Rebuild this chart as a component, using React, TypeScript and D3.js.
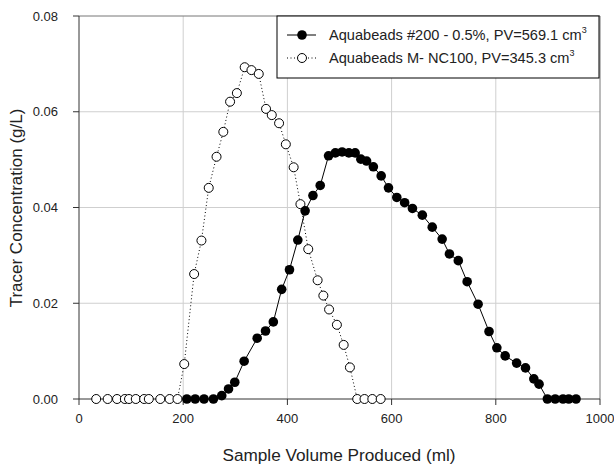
import React from 'react';
import * as d3 from 'd3';

// Aquabeads #200 - 0.5% (filled circles, solid line)
const beads200X = [207, 223, 240, 258, 274, 287, 299, 317, 342, 358, 373, 389, 404, 420, 434, 449, 463, 479, 492, 505, 518, 530, 541, 552, 565, 580, 594, 610, 625, 640, 659, 678, 697, 711, 728, 745, 766, 787, 802, 818, 840, 857, 873, 883, 899, 914, 929, 940, 954];
const beads200Y = [0, 0, 0, 0, 0.0007, 0.0021, 0.0035, 0.0079, 0.0127, 0.0142, 0.0161, 0.0229, 0.027, 0.0332, 0.0393, 0.0425, 0.0446, 0.0508, 0.0514, 0.0516, 0.0514, 0.0514, 0.0501, 0.0497, 0.0485, 0.0466, 0.0441, 0.0421, 0.041, 0.0398, 0.0384, 0.0359, 0.0334, 0.0303, 0.0289, 0.0245, 0.0198, 0.0141, 0.0107, 0.009, 0.0075, 0.0065, 0.0042, 0.0031, 0, 0, 0, 0, 0];

// Aquabeads M- NC100 (open circles, dotted line)
const nc100X = [33, 55, 73, 88, 96, 109, 125, 134, 156, 174, 189, 202, 221, 235, 249, 264, 277, 290, 303, 318, 331, 345, 359, 370, 384, 397, 412, 425, 440, 458, 469, 480, 495, 508, 520, 534, 548, 563, 579];
const nc100Y = [0, 0, 0, 0, 0, 0, 0, 0, 0, 0, 0, 0.0073, 0.0261, 0.0331, 0.0441, 0.0506, 0.0558, 0.0621, 0.0639, 0.0693, 0.0687, 0.0679, 0.0606, 0.0593, 0.0576, 0.0532, 0.0484, 0.0407, 0.0313, 0.0248, 0.0216, 0.0187, 0.0155, 0.0113, 0.0066, 0, 0, 0, 0];

const xTicks = [0, 200, 400, 600, 800, 1000];
const yTicks = [0, 0.02, 0.04, 0.06, 0.08];

const FONT = 'Liberation Sans, Arial, sans-serif';

export default function App() {
  const left = 79, right = 600, top = 16, bottom = 399;
  const x = d3.scaleLinear().domain([0, 1000]).range([left, right]);
  const y = d3.scaleLinear().domain([0, 0.08]).range([bottom, top]);

  const s200 = beads200X.map((v, i) => [v, beads200Y[i]] as [number, number]);
  const sNc = nc100X.map((v, i) => [v, nc100Y[i]] as [number, number]);

  const line = d3.line<[number, number]>()
    .x(d => x(d[0]))
    .y(d => y(d[1]));

  return (
    <svg width={614} height={466} style={{position: 'absolute', left: 0, top: 0}}>
      <rect width={614} height={466} fill="#fff" />

      {/* grid */}
      {xTicks.slice(1, -1).map(t => (
        <line key={'gx' + t} x1={x(t)} x2={x(t)} y1={top} y2={bottom} stroke="#cfcfcf" strokeWidth={1} />
      ))}
      {yTicks.slice(1, -1).map(t => (
        <line key={'gy' + t} x1={left} x2={right} y1={y(t)} y2={y(t)} stroke="#cfcfcf" strokeWidth={1} />
      ))}

      {/* frame */}
      <line x1={left} x2={right} y1={top} y2={top} stroke="#777" strokeWidth={1} />
      <line x1={right} x2={right} y1={top} y2={bottom} stroke="#777" strokeWidth={1} />
      <line x1={left} x2={left} y1={top} y2={bottom} stroke="#333" strokeWidth={1} />
      <line x1={left} x2={right} y1={bottom} y2={bottom} stroke="#333" strokeWidth={1} />

      {/* y axis ticks */}
      {yTicks.map(t => (
        <g key={'yt' + t}>
          <line x1={left - 6} x2={left} y1={y(t)} y2={y(t)} stroke="#333" />
          <text x={left - 21} y={y(t)} dy="0.35em" textAnchor="end" fontFamily={FONT} fontSize={13} fill="#222">
            {t.toFixed(2)}
          </text>
        </g>
      ))}

      {/* x axis ticks */}
      {xTicks.map(t => (
        <g key={'xt' + t}>
          <line x1={x(t)} x2={x(t)} y1={bottom} y2={bottom + 6} stroke="#333" />
          <text x={x(t)} y={bottom + 24} textAnchor="middle" fontFamily={FONT} fontSize={13} fill="#222">
            {t}
          </text>
        </g>
      ))}

      {/* axis titles */}
      <text x={339} y={461} textAnchor="middle" fontFamily={FONT} fontSize={17.2} fill="#222">
        Sample Volume Produced (ml)
      </text>
      <text transform={`translate(22, 208) rotate(-90)`} textAnchor="middle" fontFamily={FONT} fontSize={17} fill="#222">
        Tracer Concentration (g/L)
      </text>

      {/* series */}
      <path d={line(sNc) ?? ''} fill="none" stroke="#000" strokeWidth={1} strokeDasharray="1,2.5" />
      {sNc.map((d, i) => (
        <circle key={'nc' + i} cx={x(d[0])} cy={y(d[1])} r={4.5} fill="#fff" stroke="#000" strokeWidth={1} />
      ))}
      <path d={line(s200) ?? ''} fill="none" stroke="#000" strokeWidth={1} />
      {s200.map((d, i) => (
        <circle key={'b' + i} cx={x(d[0])} cy={y(d[1])} r={4.8} fill="#000" />
      ))}

      {/* legend */}
      <g>
        <rect x={277} y={16} width={322} height={62} fill="#fff" stroke="#000" strokeWidth={1} />
        <line x1={287} x2={316} y1={35} y2={35} stroke="#000" />
        <circle cx={302} cy={35} r={4.8} fill="#000" />
        <text x={329} y={35} dy="0.35em" fontFamily={FONT} fontSize={14.6} fill="#222">
          Aquabeads #200 - 0.5%, PV=569.1 cm<tspan dy="-7" fontSize={9}>3</tspan>
        </text>
        <line x1={287} x2={316} y1={58} y2={58} stroke="#000" strokeDasharray="1,2.5" />
        <circle cx={302} cy={58} r={4.5} fill="#fff" stroke="#000" />
        <text x={329} y={58} dy="0.35em" fontFamily={FONT} fontSize={14.6} fill="#222">
          Aquabeads M- NC100, PV=345.3 cm<tspan dy="-7" fontSize={9}>3</tspan>
        </text>
      </g>
    </svg>
  );
}
